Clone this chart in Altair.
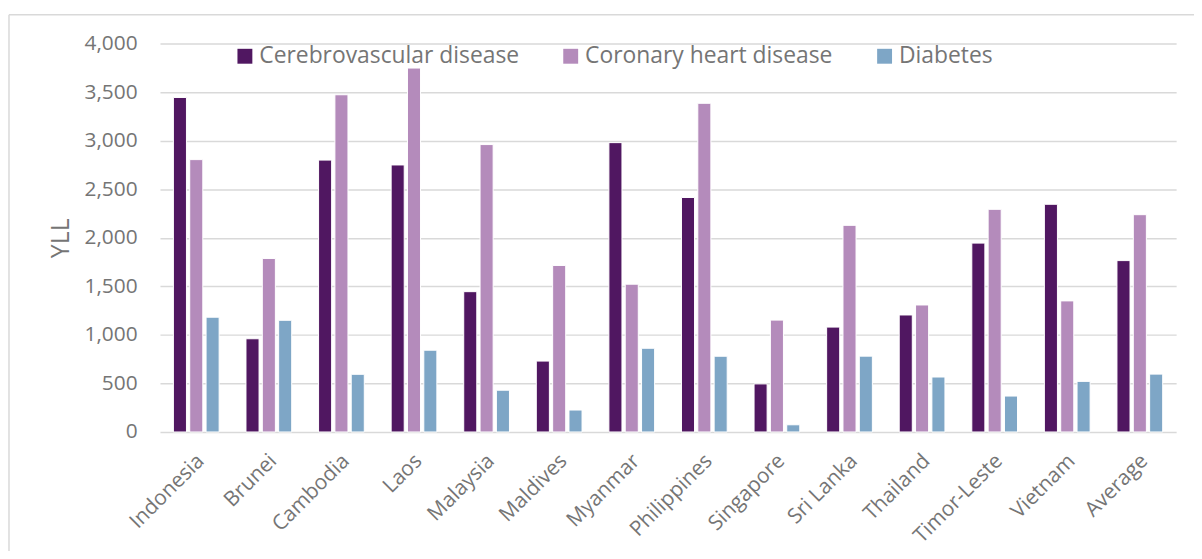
import altair as alt
import pandas as pd

countries = ["Indonesia", "Brunei", "Cambodia", "Laos", "Malaysia", "Maldives", "Myanmar",
             "Philippines", "Singapore", "Sri Lanka", "Thailand", "Timor-Leste", "Vietnam", "Average"]
series = ["Cerebrovascular disease", "Coronary heart disease", "Diabetes"]
cerebrovascular = [3445, 960, 2800, 2750, 1445, 730, 2980, 2415, 495, 1080, 1205, 1945, 2345, 1765]
coronary = [2805, 1787, 3473, 3748, 2960, 1715, 1522, 3385, 1152, 2128, 1308, 2293, 1350, 2238]
diabetes = [1182, 1150, 594, 842, 430, 226, 862, 780, 74, 781, 566, 370, 521, 596]
colors = ["#501761", "#B48BBB", "#7EA6C6"]
y_ticks = [0, 500, 1000, 1500, 2000, 2500, 3000, 3500, 4000]

rows = []
for name, vals in zip(series, [cerebrovascular, coronary, diabetes]):
    for c, v in zip(countries, vals):
        rows.append({"Country": c, "Cause": name, "YLL": v})
df = pd.DataFrame(rows)

FONT = "Open Sans"
GRAY = "#757575"

bars = alt.Chart(df).mark_bar(stroke="white", strokeWidth=1).encode(
    x=alt.X("Country:N", sort=countries, title=None,
            scale=alt.Scale(paddingInner=0.37, paddingOuter=0.185),
            axis=alt.Axis(labelAngle=-45, labelFontSize=21, labelFont=FONT, labelColor=GRAY,
                          ticks=False, domain=False, labelPadding=18, labelOffset=-3,
                          labelLimit=0)),
    xOffset=alt.XOffset("Cause:N", sort=series, scale=alt.Scale(paddingInner=0.2)),
    y=alt.Y("YLL:Q", title="YLL", scale=alt.Scale(domain=[0, 4000], nice=False),
            axis=alt.Axis(values=y_ticks, format=",.0f", labelFontSize=21, labelFont=FONT,
                          labelColor=GRAY, titleFont=FONT, titleFontSize=25, titleColor=GRAY,
                          titleFontWeight="normal", ticks=False, domain=False,
                          gridColor="#D9D9D9", gridWidth=1.5, labelPadding=23, titlePadding=11)),
    color=alt.Color("Cause:N", sort=series, scale=alt.Scale(domain=series, range=colors),
                    legend=alt.Legend(title=None, orient="none", legendX=74, legendY=1,
                                      direction="horizontal", columns=3, symbolType="square",
                                      symbolSize=225, symbolStrokeWidth=0, labelFont=FONT,
                                      labelFontSize=23, labelColor=GRAY, columnPadding=40,
                                      labelOffset=3, labelLimit=0)),
)

frame_top = alt.Chart(pd.DataFrame({"k": [0]})).mark_rule(color="#D9D9D9", strokeWidth=1.5).encode(
    x=alt.value(-152), x2=alt.value(1100), y=alt.value(-29))
frame_left = alt.Chart(pd.DataFrame({"k": [0]})).mark_rule(color="#D9D9D9", strokeWidth=1.5).encode(
    x=alt.value(-152), y=alt.value(-29), y2=alt.value(560))

chart = alt.layer(frame_top, frame_left, bars).properties(
    width=1023, height=391,
    autosize=alt.AutoSizeParams(type="none"),
    padding={"left": 153, "top": 34, "right": 18, "bottom": 118},
).configure_view(stroke=None)

chart.save("out.html", embed_options={"renderer": "svg", "actions": False})
